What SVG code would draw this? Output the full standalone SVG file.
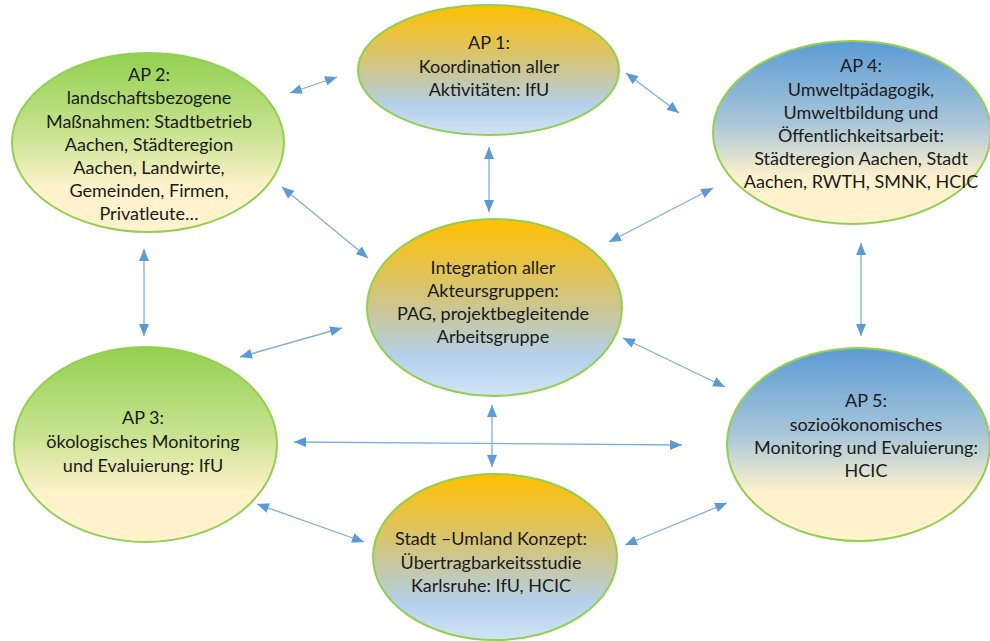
<svg xmlns="http://www.w3.org/2000/svg" width="990" height="641" viewBox="0 0 990 641">
<defs>
<linearGradient id="gOrange" x1="0" y1="0" x2="0" y2="1">
<stop offset="0" stop-color="#FFC000"/>
<stop offset="0.2" stop-color="#EDC238"/>
<stop offset="0.5" stop-color="#CCC690"/>
<stop offset="0.78" stop-color="#B4D0EC"/>
<stop offset="1" stop-color="#D2E4F5"/>
</linearGradient>
<linearGradient id="gGreen" x1="0" y1="0" x2="0" y2="1">
<stop offset="0" stop-color="#92D050"/>
<stop offset="0.45" stop-color="#C8E390"/>
<stop offset="0.75" stop-color="#FFF2CC"/>
<stop offset="1" stop-color="#FFF2CC"/>
</linearGradient>
<linearGradient id="gBlue" x1="0" y1="0" x2="0" y2="1">
<stop offset="0" stop-color="#5B9BD5"/>
<stop offset="0.45" stop-color="#A9C6D8"/>
<stop offset="0.75" stop-color="#FFF2CC"/>
<stop offset="1" stop-color="#FFF2CC"/>
</linearGradient>
<marker id="arr" viewBox="0 0 12 10" refX="12" refY="5" markerWidth="12" markerHeight="10" markerUnits="userSpaceOnUse" orient="auto-start-reverse">
<path d="M0,0 L12,5 L0,10 Z" fill="#5B9BD5"/>
</marker>
<style>
.node{stroke:#92D050;stroke-width:2}
.t{font-family:Lato,"Open Sans","Liberation Sans",sans-serif;font-size:18px;fill:#1a1a1a;text-anchor:middle}
.c{stroke:#7FAEDC;stroke-width:1.3;fill:none;marker-start:url(#arr);marker-end:url(#arr)}
</style>
</defs>
<rect width="990" height="641" fill="#FFFFFF"/>
<g id="connectors">
<line class="c" x1="290" y1="93" x2="337" y2="77"/>
<line class="c" x1="489" y1="147" x2="489" y2="212"/>
<line class="c" x1="282" y1="187" x2="368" y2="258"/>
<line class="c" x1="626" y1="73" x2="679" y2="113"/>
<line class="c" x1="713" y1="188" x2="609" y2="242"/>
<line class="c" x1="144" y1="249" x2="144" y2="336"/>
<line class="c" x1="240" y1="357" x2="342" y2="328"/>
<line class="c" x1="861" y1="243" x2="861" y2="336"/>
<line class="c" x1="623" y1="338" x2="725" y2="387"/>
<line class="c" x1="294" y1="442" x2="682" y2="445"/>
<line class="c" x1="492" y1="405" x2="492" y2="467"/>
<line class="c" x1="257" y1="504" x2="364" y2="542"/>
<line class="c" x1="625" y1="545" x2="727" y2="503"/>
</g>
<g id="ap1">
<ellipse class="node" cx="488.5" cy="70" rx="130.5" ry="65" fill="url(#gOrange)"/>
<text class="t" x="489" y="49">AP 1:</text>
<text class="t" x="489" y="73">Koordination aller</text>
<text class="t" x="489" y="96">Aktivitäten: IfU</text>
</g>
<g id="ap2">
<ellipse class="node" cx="148" cy="142.5" rx="136" ry="89.5" fill="url(#gGreen)"/>
<text class="t" x="149" y="81">AP 2:</text>
<text class="t" x="149" y="104">landschaftsbezogene</text>
<text class="t" x="149" y="128">Maßnahmen: Stadtbetrieb</text>
<text class="t" x="149" y="151">Aachen, Städteregion</text>
<text class="t" x="149" y="174">Aachen, Landwirte,</text>
<text class="t" x="149" y="197">Gemeinden, Firmen,</text>
<text class="t" x="149" y="220">Privatleute…</text>
</g>
<g id="ap4">
<ellipse class="node" cx="852" cy="132.5" rx="139" ry="91.5" fill="url(#gBlue)"/>
<text class="t" x="861" y="72">AP 4:</text>
<text class="t" x="861" y="96">Umweltpädagogik,</text>
<text class="t" x="861" y="119">Umweltbildung und</text>
<text class="t" x="861" y="142">Öffentlichkeitsarbeit:</text>
<text class="t" x="861" y="165">Städteregion Aachen, Stadt</text>
<text class="t" x="861" y="188">Aachen, RWTH, SMNK, HCIC</text>
</g>
<g id="center">
<ellipse class="node" cx="494.5" cy="307.5" rx="127.5" ry="88.5" fill="url(#gOrange)"/>
<text class="t" x="493" y="274">Integration aller</text>
<text class="t" x="493" y="297">Akteursgruppen:</text>
<text class="t" x="493" y="320">PAG, projektbegleitende</text>
<text class="t" x="493" y="343">Arbeitsgruppe</text>
</g>
<g id="ap3">
<ellipse class="node" cx="145.5" cy="444.5" rx="131.5" ry="97.5" fill="url(#gGreen)"/>
<text class="t" x="143" y="424">AP 3:</text>
<text class="t" x="143" y="448">ökologisches Monitoring</text>
<text class="t" x="143" y="472">und Evaluierung: IfU</text>
</g>
<g id="ap5">
<ellipse class="node" cx="858.5" cy="444.5" rx="131.5" ry="96.5" fill="url(#gBlue)"/>
<text class="t" x="866" y="407">AP 5:</text>
<text class="t" x="866" y="431">sozioökonomisches</text>
<text class="t" x="866" y="454">Monitoring und Evaluierung:</text>
<text class="t" x="866" y="477">HCIC</text>
</g>
<g id="bottom">
<ellipse class="node" cx="495" cy="557" rx="122" ry="83" fill="url(#gOrange)"/>
<text class="t" x="491" y="545">Stadt –Umland Konzept:</text>
<text class="t" x="491" y="569">Übertragbarkeitsstudie</text>
<text class="t" x="491" y="592">Karlsruhe: IfU, HCIC</text>
</g>
</svg>
